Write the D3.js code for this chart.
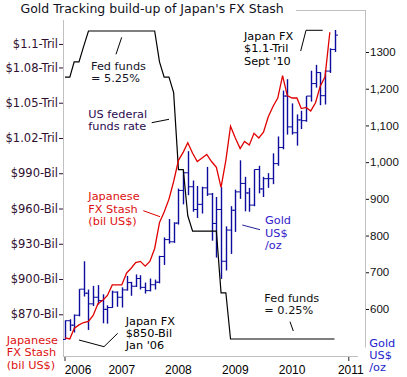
<!DOCTYPE html>
<html><head><meta charset="utf-8">
<script src="https://cdn.jsdelivr.net/npm/d3@7/dist/d3.min.js"></script>
<style>body{margin:0;background:#fff}svg{display:block}</style>
</head><body>
<svg id="c" width="407" height="377"></svg>
<script>
// ---------------- data ----------------
const startMonth = new Date(2006, 0, 1);            // Jan 2006, monthly categories
const yearLabels = ["2006","2007","2008","2009","2010","2011"];

// Japanese FX reserves, bil US$, Jan 2006 .. Sep 2010
const fxReserves = [850,849,858,861,863,864,869,879,882,886,895,895,
  895,905,909,914,915,911,915,926,948,957,968,983,
  1001,1008,1016,1007,1000,1003,1006,1000,995,978,1001,1030,
  1020,1011,1017,1014,1024,1020,1025,1038,1047,1054,1073,1056,
  1054,1054,1045,1046,1043,1050,1064,1072,1110];

// US fed funds target rate (%), Jan 2006 .. Oct 2010
const fedFunds = [4.50,4.50,4.75,4.75,5.00,5.25,5.25,5.25,5.25,5.25,5.25,5.25,
  5.25,5.25,5.25,5.25,5.25,5.25,5.25,5.25,4.75,4.50,4.50,4.25,
  3.00,3.00,2.25,2.00,2.00,2.00,2.00,2.00,2.00,1.00,1.00,0.25,
  0.25,0.25,0.25,0.25,0.25,0.25,0.25,0.25,0.25,0.25,0.25,0.25,
  0.25,0.25,0.25,0.25,0.25,0.25,0.25,0.25,0.25,0.25];

// Gold US$/oz monthly OHLC, Jan 2006 .. Oct 2010
const goldOpen  = [517,568,556,583,654,643,614,632,623,599,604,646,
  632,652,672,662,683,659,650,666,673,743,789,783,
  834,923,971,933,871,885,930,913,833,871,730,815,
  869,919,942,916,883,980,927,955,955,996,1040,1180,
  1096,1080,1115,1113,1180,1214,1244,1181,1248,1307];
const goldHigh  = [569,572,585,654,730,653,663,665,640,610,650,648,
  659,690,674,694,692,672,683,680,745,795,845,836,
  928,975,1030,950,935,933,987,916,905,932,825,880,
  925,1005,960,930,980,990,960,970,1024,1070,1195,1226,
  1160,1130,1140,1180,1249,1265,1245,1250,1310,1360];
const goldLow   = [517,540,536,580,634,543,608,612,561,560,603,606,
  604,650,636,660,653,642,648,653,670,720,778,780,
  830,885,910,865,848,860,908,786,740,682,705,750,
  810,900,866,865,880,915,905,930,940,990,1035,1075,
  1075,1045,1090,1110,1165,1203,1155,1157,1243,1300];
const goldClose = [568,556,583,654,643,614,632,623,599,604,646,632,
  652,672,662,683,659,650,666,673,743,789,783,834,
  923,971,933,871,885,930,913,833,871,730,815,869,
  919,942,916,883,980,927,955,955,996,1040,1180,1096,
  1080,1115,1113,1180,1214,1244,1181,1248,1307,1346];

const fxTickValues = [870,900,930,960,990,1020,1050,1080,1100];
const fxTickLabels = ["$870-Bil","$900-Bil","$930-Bil","$960-Bil","$990-Bil","$1.02-Tril","$1.05-Tril","$1.08-Tril","$1.1-Tril"];
const goldTickValues = [600,700,800,900,1000,1100,1200,1300];
const goldTickLabels = ["600","700","800","900","1,000","1,100","1,200","1300"];

// ---------------- layout / styles ----------------
const svg = d3.select("#c");
const annFont = "'DejaVu Sans', Verdana, sans-serif";
const month = i => d3.timeMonth.offset(startMonth, i);

const x = d3.scaleTime().domain([new Date(2006,0,1), new Date(2011,0,1)]).range([65, 348.8]);
const yFx = d3.scaleLinear().domain([850,1110]).range([337.8,32.2]);
const yGold = d3.scaleLinear().domain([500,1400]).range([345.7,15.3]);
const yFed = d3.scaleLinear().domain([0,5.5]).range([354.4,15.6]);

// plot frame
svg.append("rect").attr("x",63.5).attr("y",10.5).attr("width",302).attr("height",346)
  .attr("fill","none").attr("stroke","#c0c0c0").attr("stroke-width",1);

// gold OHLC bars
const gold = goldHigh.map((h,i)=>({d:month(i), o:goldOpen[i], h, l:goldLow[i], c:goldClose[i]}));
const gG = svg.append("g").attr("stroke","#0c0c9e");
gold.forEach(b=>{
  const cx = Math.round(x(b.d)) + 0.5;
  gG.append("line").attr("x1",cx).attr("x2",cx).attr("y1",yGold(b.h)).attr("y2",yGold(b.l)).attr("stroke-width",1.4);
  gG.append("line").attr("x1",cx-2.5).attr("x2",cx).attr("y1",yGold(b.o)).attr("y2",yGold(b.o)).attr("stroke-width",1);
  gG.append("line").attr("x1",cx).attr("x2",cx+2.5).attr("y1",yGold(b.c)).attr("y2",yGold(b.c)).attr("stroke-width",1);
});

// fed funds line
svg.append("path").datum(fedFunds)
  .attr("d", d3.line().x((d,i)=>x(month(i))).y(d=>yFed(d)))
  .attr("fill","none").attr("stroke","#000").attr("stroke-width",1.2);

// FX reserves line
svg.append("path").datum(fxReserves)
  .attr("d", d3.line().x((d,i)=>x(month(i))).y(d=>yFx(d)))
  .attr("fill","none").attr("stroke","#e00000").attr("stroke-width",1.3);

// left axis (FX)
const axL = svg.append("g").attr("transform","translate(63,0)")
  .call(d3.axisLeft(yFx).tickValues(fxTickValues).tickFormat((d,i)=>fxTickLabels[i]).tickSize(4).tickPadding(1));
axL.select(".domain").remove();
axL.selectAll("line").attr("stroke","#301030");
axL.selectAll("text").attr("fill","#301030").style("font-family",annFont).style("font-size","11.5px");

// right axis (gold)
const axR = svg.append("g").attr("transform","translate(366,0)")
  .call(d3.axisRight(yGold).tickValues(goldTickValues).tickFormat((d,i)=>goldTickLabels[i]).tickSize(3).tickPadding(1));
axR.select(".domain").remove();
axR.selectAll("line").attr("stroke","#111");
axR.selectAll("text").attr("fill","#111").style("font-family","'Liberation Sans', Arial, sans-serif").style("font-size","11.5px");

// white boxes (title / corner label)
svg.append("rect").attr("x",0).attr("y",0).attr("width",296).attr("height",20).attr("fill","#fff");
svg.append("rect").attr("x",358).attr("y",347.5).attr("width",49).attr("height",30).attr("fill","#fff");

// x ticks + year labels
[new Date(2006,0,1), new Date(2011,0,1)].forEach(d=>{
  svg.append("line").attr("x1",x(d)).attr("x2",x(d)).attr("y1",357).attr("y2",361).attr("stroke","#222");
});
svg.append("g").selectAll("text").data(yearLabels).join("text")
  .attr("x",d=>x(new Date(+d,0,1))).attr("dx",(d,i)=>i===0?13:(i===5?2:0)).attr("y",374)
  .attr("text-anchor","middle").attr("fill","#000")
  .style("font-family","'Liberation Sans', Arial, sans-serif").style("font-size","12px").text(d=>d);

// title
svg.append("text").attr("x",20.5).attr("y",13.3).attr("fill","#111122")
  .style("font-family",annFont).style("font-size","12.5px")
  .text("Gold Tracking build-up of Japan's FX Stash");

// annotations
const notes = [
  {lines:["Fed funds","= 5.25%"], x:91, y:70, lh:12.4, color:"#141428", lead:[[121.7,37.3],[116,54.3]], lc:"#000"},
  {lines:["US federal","funds rate"], x:88.3, y:117.7, lh:12.4, color:"#2a0a50", lead:[[151.7,122.7],[169,119.3]], lc:"#000"},
  {lines:["Japanese","FX Stash","(bil US$)"], x:88.3, y:200, lh:12.5, color:"#dd1111", lead:[[143.3,210.7],[160,216.7]], lc:"#dd0000"},
  {lines:["Japan FX","$850-Bil","Jan '06"], x:125.7, y:325, lh:12.2, color:"#000", lead:[[79,340],[104,346.7],[117.7,333.3]], lc:"#000"},
  {lines:["Japan FX","$1.1-Tril","Sept '10"], x:244, y:40, lh:12.3, color:"#000", lead:[[300.7,51],[306,30.3],[322.7,30.3]], lc:"#000"},
  {lines:["Gold","US$","/oz"], x:265, y:224, lh:12.5, color:"#3322cc", lead:[[242.3,225],[260,229.7]], lc:"#22229a"},
  {lines:["Fed funds","= 0.25%"], x:264.3, y:301.7, lh:12.2, color:"#111", lead:[[290,321.7],[293.3,331]], lc:"#000"},
  {lines:["Japanese","FX Stash","(bil US$)"], x:6.7, y:344, lh:12.4, color:"#dd1111"},
  {lines:["Gold","US$","/oz"], x:369.3, y:346.7, lh:12.2, color:"#2222cc"}
];
notes.forEach(n=>{
  if(n.lead) svg.append("path").attr("d", d3.line()(n.lead)).attr("fill","none").attr("stroke",n.lc).attr("stroke-width",1);
  const t = svg.append("text").attr("fill",n.color).style("font-family",annFont).style("font-size","11.3px");
  n.lines.forEach((s,i)=>t.append("tspan").attr("x",n.x).attr("y",n.y+i*n.lh).text(s));
});
</script>
</body></html>
